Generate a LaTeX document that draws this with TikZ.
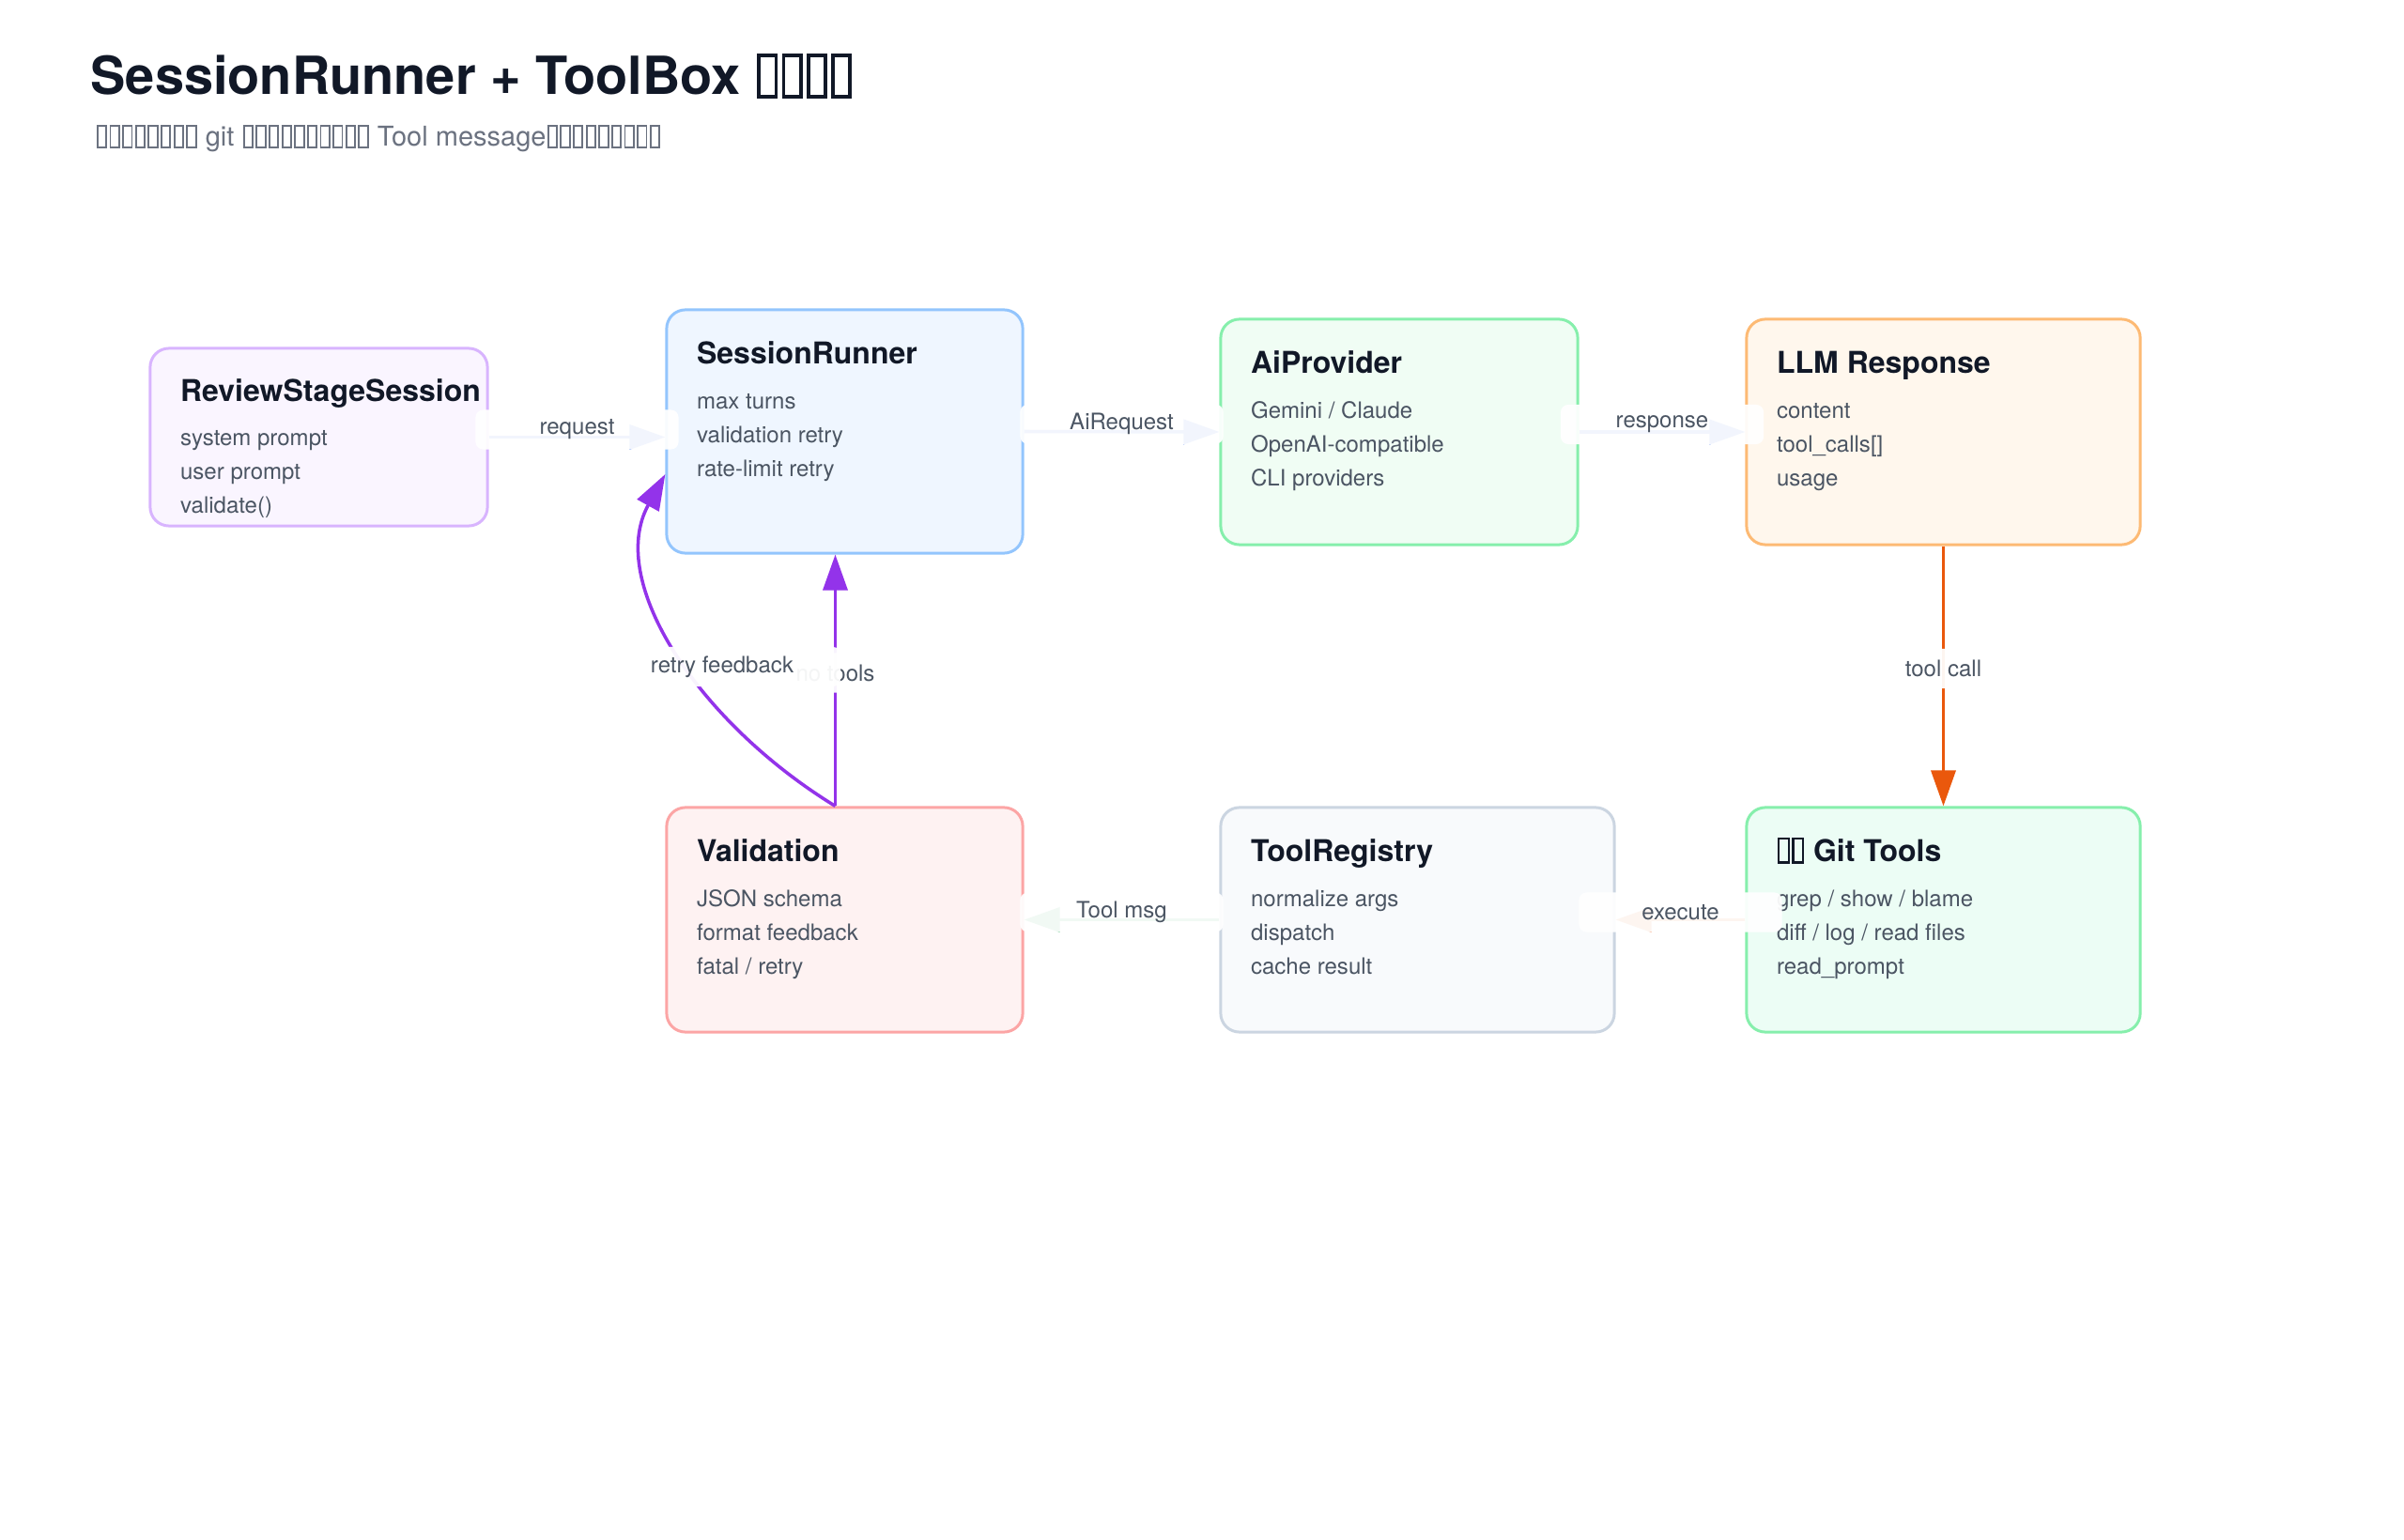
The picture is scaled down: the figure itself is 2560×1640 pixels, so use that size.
\documentclass[tikz,border=0pt]{standalone}
\usepackage{fontspec}
\setmainfont{TeX Gyre Heros}
\usetikzlibrary{arrows.meta}
\definecolor{titlec}{HTML}{111827}
\definecolor{itemc}{HTML}{4B5563}
\definecolor{subc}{HTML}{6B7280}
\definecolor{revd}{HTML}{D8B4FE}\definecolor{revf}{HTML}{FAF5FF}
\definecolor{rund}{HTML}{93C5FD}\definecolor{runf}{HTML}{EFF6FF}
\definecolor{provd}{HTML}{86EFAC}\definecolor{provf}{HTML}{F0FDF4}
\definecolor{llmd}{HTML}{FDBA74}\definecolor{llmf}{HTML}{FFF7ED}
\definecolor{vald}{HTML}{FCA5A5}\definecolor{valf}{HTML}{FEF2F2}
\definecolor{regd}{HTML}{CBD5E1}\definecolor{regf}{HTML}{F8FAFC}
\definecolor{gitd}{HTML}{86EFAC}\definecolor{gitf}{HTML}{ECFDF5}
\definecolor{bluec}{HTML}{2563EB}
\definecolor{greenc}{HTML}{16A34A}
\definecolor{orangec}{HTML}{EA580C}
\definecolor{purplec}{HTML}{9333EA}
\newcommand{\tofu}{\kern.04em\begingroup\setlength{\fboxsep}{0pt}\setlength{\fboxrule}{.065em}\fbox{\rule{0pt}{.72em}\rule{.26em}{0pt}}\endgroup\kern.04em}
\newcommand{\tofus}[1]{\foreach \k in {1,...,#1}{\tofu}}

\begin{document}
\begin{tikzpicture}[x=0.01cm,y=-0.01cm,>={Triangle[length=0.38cm,width=0.26cm]},
  card/.style={draw,line width=0.85pt,rounded corners=0.2cm,inner sep=0pt},
  ttl/.style={anchor=base west,inner sep=0pt,text=titlec,font=\fontsize{9.1}{11}\selectfont\bfseries},
  itm/.style={anchor=base west,inner sep=0pt,text=itemc,font=\fontsize{6.83}{8}\selectfont},
  lbl/.style={fill=white,fill opacity=0.94,text opacity=1,text=itemc,rounded corners=0.08cm,
    minimum width=2.16cm,minimum height=0.42cm,inner sep=0pt,font=\fontsize{6.83}{8}\selectfont},
  flow/.style={->,line width=1pt}]
  \fill[white] (0,0) rectangle (2560,1640);
  \node[anchor=base west,inner sep=0pt,text=titlec,font=\fontsize{15.9}{19}\selectfont\bfseries] (title) at (96,101)
    {SessionRunner + ToolBox \tofus{4}};
  \node[anchor=base west,inner sep=0pt,text=subc,font=\fontsize{8.25}{10}\selectfont] (subtitle) at (101,156)
    {\tofus{8} git \tofus{10} Tool message\tofus{9}};

  \node[card,draw=revd,fill=revf,minimum width=3.59cm,minimum height=1.89cm] (review) at (339.5,465.5) {};
  \node[card,draw=rund,fill=runf,minimum width=3.79cm,minimum height=2.59cm] (runner) at (899.5,459.5) {};
  \node[card,draw=provd,fill=provf,minimum width=3.80cm,minimum height=2.40cm] (provider) at (1490,460) {};
  \node[card,draw=llmd,fill=llmf,minimum width=4.19cm,minimum height=2.40cm] (llm) at (2069.5,460) {};
  \node[card,draw=vald,fill=valf,minimum width=3.79cm,minimum height=2.39cm] (val) at (899.5,979.5) {};
  \node[card,draw=regd,fill=regf,minimum width=4.19cm,minimum height=2.39cm] (registry) at (1509.5,979.5) {};
  \node[card,draw=gitd,fill=gitf,minimum width=4.19cm,minimum height=2.39cm] (git) at (2069.5,979.5) {};

  \node[ttl] (review-t) at ([shift={(33,58)}]review.north west) {ReviewStageSession};
  \foreach \s [count=\i] in {system prompt,user prompt,validate()}
    \node[itm] (review-\i) at ([shift={(33,69+36*\i)}]review.north west) {\s};
  \node[ttl] (runner-t) at ([shift={(33,59)}]runner.north west) {SessionRunner};
  \foreach \s [count=\i] in {max turns,validation retry,rate-limit retry}
    \node[itm] (runner-\i) at ([shift={(33,71+36*\i)}]runner.north west) {\s};
  \node[ttl] (provider-t) at ([shift={(33,59)}]provider.north west) {AiProvider};
  \foreach \s [count=\i] in {Gemini / Claude,OpenAI-compatible,CLI providers}
    \node[itm] (provider-\i) at ([shift={(33,71+36*\i)}]provider.north west) {\s};
  \node[ttl] (llm-t) at ([shift={(33,59)}]llm.north west) {LLM Response};
  \foreach \s [count=\i] in {content,tool\_calls[],usage}
    \node[itm] (llm-\i) at ([shift={(33,71+36*\i)}]llm.north west) {\s};
  \node[ttl] (val-t) at ([shift={(33,59)}]val.north west) {Validation};
  \foreach \s [count=\i] in {JSON schema,format feedback,fatal / retry}
    \node[itm] (val-\i) at ([shift={(33,71+36*\i)}]val.north west) {\s};
  \node[ttl] (registry-t) at ([shift={(33,59)}]registry.north west) {ToolRegistry};
  \foreach \s [count=\i] in {normalize args,dispatch,cache result}
    \node[itm] (registry-\i) at ([shift={(33,71+36*\i)}]registry.north west) {\s};
  \node[ttl] (git-t) at ([shift={(33,59)}]git.north west) {\tofus{2} Git Tools};
  \foreach \s [count=\i] in {grep / show / blame,diff / log / read files,read\_prompt}
    \node[itm] (git-\i) at ([shift={(33,71+36*\i)}]git.north west) {\s};

  \draw[flow,bluec] (review.east) -- node[lbl,yshift=0.08cm] (req) {request} (review.east -| runner.west);
  \draw[flow,bluec] (runner.east) -- node[lbl,yshift=0.08cm] (aireq) {AiRequest} (provider.west);
  \draw[flow,bluec] (provider.east) -- node[lbl,yshift=0.08cm] (resp) {response} (llm.west);
  \draw[flow,orangec] (llm.south) -- node[lbl,yshift=0.08cm] (call) {tool call} (git.north);
  \draw[flow,orangec] (git.west) -- node[lbl,yshift=0.08cm] (exec) {execute} (registry.east);
  \draw[flow,greenc] (registry.west) -- node[lbl,yshift=0.08cm] (msg) {Tool msg} (val.east);
  \draw[flow,purplec] ([xshift=-0.1cm]val.north) -- node[lbl,yshift=0.08cm] (notools) {no tools}
    ([xshift=-0.1cm]val.north |- runner.south);
  \draw[flow,purplec] ([xshift=-0.1cm]val.north) .. controls (745,770) and (645,620) .. ([yshift=-0.455cm]runner.west);
  \node[lbl,minimum width=2.34cm] (retry) at (778,710) {retry feedback\rule{0.18cm}{0pt}};
\end{tikzpicture}
\end{document}
